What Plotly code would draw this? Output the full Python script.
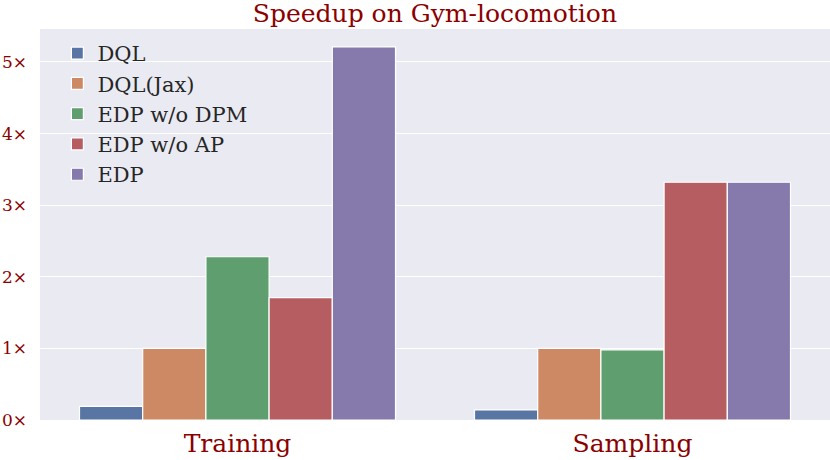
import plotly.graph_objects as go

phases = ["Training", "Sampling"]
methods = ["DQL", "DQL(Jax)", "EDP w/o DPM", "EDP w/o AP", "EDP"]
speedup = {
    "DQL": [0.19, 0.14],
    "DQL(Jax)": [1.0, 1.0],
    "EDP w/o DPM": [2.28, 0.98],
    "EDP w/o AP": [1.71, 3.32],
    "EDP": [5.21, 3.32],
}
y_ticks = [0, 1, 2, 3, 4, 5]
y_tick_labels = ["0\u00d7", "1\u00d7", "2\u00d7", "3\u00d7", "4\u00d7", "5\u00d7"]

# seaborn "deep" palette, desaturated like barplot does
colors = ["#5975a4", "#cc8963", "#5f9e6e", "#b55d60", "#857aab"]
dark_red = "#8b0000"

fig = go.Figure()
for name, color in zip(methods, colors):
    fig.add_trace(go.Bar(
        x=phases,
        y=speedup[name],
        name=name,
        marker=dict(color=color, line=dict(color="white", width=1.2)),
    ))

fig.update_layout(
    width=830,
    height=460,
    barmode="group",
    bargap=0.2,
    bargroupgap=0,
    paper_bgcolor="white",
    plot_bgcolor="#eaeaf2",
    font=dict(family="DejaVu Serif", color=dark_red),
    margin=dict(l=40, r=0, t=29, b=40, autoexpand=False),
    title=dict(
        text="Speedup on Gym-locomotion",
        x=0.524, xanchor="center", y=0.972, yanchor="middle",
        font=dict(size=25, color=dark_red),
    ),
    legend=dict(
        x=0.022, y=0.99, xanchor="left", yanchor="top",
        bgcolor="rgba(0,0,0,0)",
        font=dict(size=21, color="#262626"),
    ),
    xaxis=dict(
        range=[-0.5, 1.5],
        showgrid=False,
        ticks="",
        ticklabelstandoff=6,
        tickfont=dict(size=25, color=dark_red),
    ),
    yaxis=dict(
        range=[0, 5.46],
        tickvals=y_ticks,
        ticktext=y_tick_labels,
        gridcolor="white",
        gridwidth=1.2,
        zeroline=False,
        ticks="",
        ticklabelstandoff=12,
        tickfont=dict(size=17, color=dark_red),
    ),
)

# drop the page's default body margin so the figure sits at the window origin
fig.write_html(
    "out.html",
    config={"displayModeBar": False},
    post_script="document.body.style.margin='0';",
)
